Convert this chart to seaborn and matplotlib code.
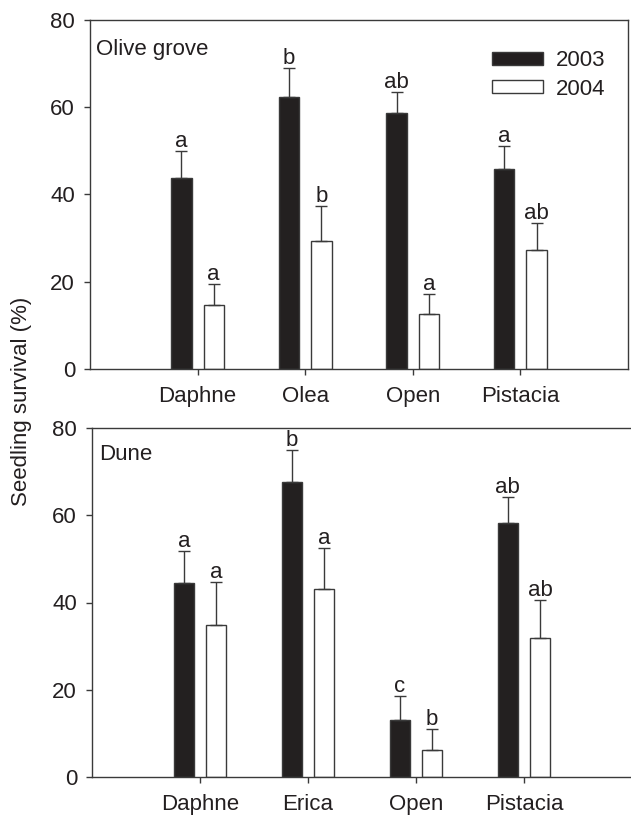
import matplotlib
matplotlib.use("Agg")
import matplotlib.pyplot as plt
import matplotlib.patches as mpatches
import seaborn as sns
import pandas as pd

# ---------------- data ----------------
years = ["2003", "2004"]

olive_sites = ["Daphne", "Olea", "Open", "Pistacia"]
olive_2003 = [43.8, 62.3, 58.5, 45.8]
olive_2003_se = [6.0, 6.5, 4.9, 5.3]
olive_2004 = [14.7, 29.3, 12.7, 27.2]
olive_2004_se = [4.8, 7.9, 4.5, 6.2]
olive_letters_2003 = ["a", "b", "ab", "a"]
olive_letters_2004 = ["a", "b", "a", "ab"]

dune_sites = ["Daphne", "Erica", "Open", "Pistacia"]
dune_2003 = [44.4, 67.6, 13.0, 58.3]
dune_2003_se = [7.4, 7.3, 5.6, 5.9]
dune_2004 = [34.8, 43.1, 6.2, 31.8]
dune_2004_se = [9.9, 9.4, 4.7, 8.8]
dune_letters_2003 = ["a", "b", "c", "ab"]
dune_letters_2004 = ["a", "a", "b", "ab"]

yticks = [0, 20, 40, 60, 80]

# ---------------- style ----------------
sns.set_style("ticks")
FONT = ["Liberation Sans", "DejaVu Sans"]
plt.rcParams["font.family"] = FONT
FS = 16
DARK = "#231f20"
EDGE = "#3a3a3a"
plt.rcParams.update({
    "axes.edgecolor": EDGE,
    "axes.linewidth": 1.0,
    "xtick.color": EDGE,
    "ytick.color": EDGE,
    "xtick.labelcolor": DARK,
    "ytick.labelcolor": DARK,
    "xtick.major.size": 4.3,
    "ytick.major.size": 4.3,
    "xtick.major.width": 1.0,
    "ytick.major.width": 1.0,
    "xtick.major.pad": 8,
    "ytick.major.pad": 6.5,
    "xtick.direction": "out",
    "ytick.direction": "out",
})

palette = {"2003": DARK, "2004": "white"}

fig = plt.figure(figsize=(6.31, 8.17), dpi=100)
W, H = 631.0, 817.0


def panel(rect, sites, v03, s03, v04, s04, l03, l04, title, title_xy, legend=False):
    ax = fig.add_axes(rect)
    df = pd.DataFrame({
        "site": sites * 2,
        "year": [years[0]] * len(sites) + [years[1]] * len(sites),
        "survival": list(v03) + list(v04),
    })
    sns.barplot(data=df, x="site", y="survival", hue="year", order=sites,
                hue_order=years, palette=palette, edgecolor=EDGE, linewidth=1.0,
                width=0.6, gap=0.37, errorbar=None, ax=ax, legend=False)
    vals = [(v03, s03, l03), (v04, s04, l04)]
    for cont, (v, s, lab) in zip(ax.containers, vals):
        xs = [b.get_x() + b.get_width() / 2 for b in cont]
        ax.errorbar(xs, v, yerr=[[0] * len(v), s], fmt="none", ecolor=EDGE,
                    elinewidth=1.0, capsize=4, capthick=1.0, zorder=1)
        for x, m, e, t in zip(xs, v, s, lab):
            ax.annotate(t, (x, m + e), xytext=(0, 3), textcoords="offset points",
                        ha="center", va="baseline", fontsize=FS, color=DARK)
    ax.set_xlim(-1, 4)
    ax.set_ylim(0, 80)
    ax.set_yticks(yticks)
    ax.set_xlabel("")
    ax.set_ylabel("")
    ax.tick_params(labelsize=FS)
    ax.text(title_xy[0], title_xy[1], title, transform=ax.transAxes,
            fontsize=FS, color=DARK, ha="left", va="baseline")
    for sp in ax.spines.values():
        sp.set_visible(True)
    if legend:
        handles = [mpatches.Patch(facecolor=palette[y], edgecolor=EDGE, linewidth=1.0)
                   for y in years]
        ax.legend(handles, years, loc="upper left", bbox_to_anchor=(0.747, 0.913),
                  frameon=False, fontsize=FS, handlelength=2.32, handleheight=0.52,
                  handletextpad=0.57, labelspacing=0.35, borderpad=0,
                  borderaxespad=0, labelcolor=DARK)
    return ax


top_rect = [90 / W, (H - 369) / H, 538 / W, 349.5 / H]
bot_rect = [92 / W, (H - 777) / H, 540 / W, 349 / H]

panel(top_rect, olive_sites, olive_2003, olive_2003_se, olive_2004, olive_2004_se,
      olive_letters_2003, olive_letters_2004, "Olive grove", (0.011, 0.898), legend=True)
panel(bot_rect, dune_sites, dune_2003, dune_2003_se, dune_2004, dune_2004_se,
      dune_letters_2003, dune_letters_2004, "Dune", (0.013, 0.908))

fig.text(22 / W, 1 - 401 / H, "Seedling survival (%)", rotation=90, ha="center",
         va="center", fontsize=FS, color=DARK)

fig.savefig("out.png", dpi=100)
